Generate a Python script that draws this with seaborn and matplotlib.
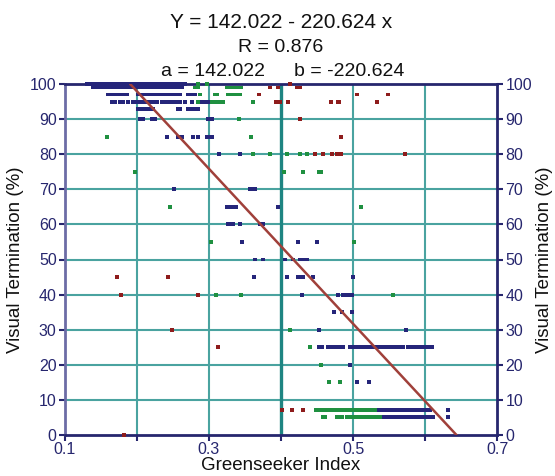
import numpy as np
import pandas as pd
import matplotlib
matplotlib.use("Agg")
import matplotlib.pyplot as plt
import seaborn as sns

# ---------------- data ----------------
intercept_a = 142.022
slope_b = -220.624
r_value = 0.876

x_ticks = [0.1, 0.3, 0.5, 0.7]
x_minor = [0.2, 0.4, 0.6]
y_ticks = list(range(0, 101, 10))

navy_rows = {
    100: [0.131, 0.135, 0.139, 0.143, 0.147, 0.151, 0.155, 0.159, 0.163, 0.167, 0.171, 0.175,
          0.179, 0.183, 0.187, 0.191, 0.195, 0.199, 0.203, 0.207, 0.211, 0.215, 0.219, 0.223,
          0.227, 0.231, 0.235, 0.239, 0.243, 0.247, 0.251, 0.255, 0.259, 0.263, 0.267],
    99: [0.139, 0.143, 0.147, 0.151, 0.155, 0.159, 0.163, 0.167, 0.171, 0.175, 0.179, 0.183,
         0.187, 0.191, 0.195, 0.199, 0.203, 0.207, 0.211, 0.215, 0.219, 0.223, 0.227, 0.231,
         0.235, 0.239, 0.243, 0.247, 0.251, 0.255, 0.259, 0.263],
    97: [0.160, 0.164, 0.168, 0.172, 0.176, 0.181, 0.186, 0.201, 0.205, 0.209, 0.213, 0.217,
         0.221, 0.225, 0.229, 0.233, 0.237, 0.241, 0.245, 0.250, 0.253, 0.257, 0.260, 0.271,
         0.276, 0.281],
    95: [0.165, 0.170, 0.177, 0.181, 0.188, 0.194, 0.200, 0.204, 0.208, 0.212, 0.216, 0.220,
         0.224, 0.228, 0.235, 0.239, 0.243, 0.246, 0.250, 0.256, 0.260, 0.267, 0.276, 0.290,
         0.294, 0.299],
    93: [0.201, 0.205, 0.209, 0.211, 0.215, 0.219, 0.222, 0.257, 0.260, 0.271, 0.275, 0.279,
         0.283, 0.285],
    90: [0.204, 0.208, 0.221, 0.225, 0.299, 0.304],
    85: [0.242, 0.257, 0.260, 0.262, 0.278, 0.285, 0.297, 0.301, 0.304],
    80: [0.314, 0.343],
    70: [0.252, 0.357, 0.361, 0.364],
    65: [0.325, 0.329, 0.332, 0.337, 0.396],
    60: [0.326, 0.330, 0.333, 0.343, 0.371, 0.375],
    55: [0.346, 0.424, 0.450],
    50: [0.364, 0.375, 0.406, 0.417, 0.426, 0.431, 0.436],
    45: [0.363, 0.408, 0.424, 0.427, 0.430, 0.444, 0.500],
    40: [0.429, 0.479, 0.486, 0.490, 0.494, 0.499],
    35: [0.474, 0.485, 0.499],
    30: [0.453, 0.574],
    25: [0.453, 0.457, 0.465, 0.470, 0.475, 0.478, 0.482, 0.486, 0.496, 0.501, 0.506, 0.507,
         0.511, 0.515, 0.519, 0.521, 0.526, 0.531, 0.533, 0.537, 0.542, 0.544, 0.549, 0.553,
         0.556, 0.558, 0.563, 0.568, 0.570, 0.576, 0.582, 0.586, 0.590, 0.594, 0.597, 0.600,
         0.605, 0.610],
    20: [0.496],
    15: [0.506, 0.522],
    7: [0.531, 0.535, 0.539, 0.543, 0.547, 0.551, 0.555, 0.559, 0.563, 0.567, 0.571, 0.575,
        0.579, 0.583, 0.589, 0.593, 0.597, 0.600, 0.603, 0.607, 0.632],
    5: [0.540, 0.544, 0.548, 0.552, 0.556, 0.560, 0.564, 0.568, 0.572, 0.576, 0.580, 0.584,
        0.588, 0.592, 0.596, 0.600, 0.603, 0.608, 0.611, 0.632],
}

green_rows = {
    100: [0.285, 0.297],
    99: [0.281, 0.285, 0.325, 0.329, 0.332, 0.336, 0.340, 0.344],
    97: [0.288, 0.308, 0.311, 0.326, 0.329, 0.332, 0.336, 0.340, 0.343],
    95: [0.285, 0.304, 0.308, 0.312, 0.316, 0.320, 0.361],
    90: [0.342],
    85: [0.158, 0.358],
    80: [0.361, 0.385, 0.408, 0.426, 0.436],
    75: [0.197, 0.404, 0.431, 0.453, 0.456],
    65: [0.246, 0.511],
    55: [0.303, 0.501],
    40: [0.310, 0.344, 0.556],
    30: [0.413],
    25: [0.440],
    20: [0.456],
    15: [0.467, 0.482],
    7: [0.449, 0.453, 0.457, 0.461, 0.465, 0.469, 0.473, 0.477, 0.481, 0.485, 0.489, 0.493,
        0.497, 0.501, 0.505, 0.509, 0.513, 0.517, 0.521, 0.526, 0.531],
    5: [0.458, 0.461, 0.478, 0.482, 0.485, 0.492, 0.496, 0.499, 0.503, 0.507, 0.512, 0.517,
        0.519, 0.524, 0.528, 0.532, 0.538],
}

red_rows = {
    100: [0.413],
    99: [0.385, 0.396, 0.422, 0.426],
    97: [0.369, 0.506, 0.549],
    95: [0.393, 0.399, 0.410, 0.469, 0.479, 0.481, 0.533],
    90: [0.427],
    85: [0.483],
    80: [0.447, 0.458, 0.471, 0.478, 0.483, 0.572],
    45: [0.172, 0.243],
    40: [0.178, 0.285],
    30: [0.249],
    25: [0.312],
    7: [0.401, 0.415, 0.431],
    0: [0.182],
}

series_colors = {"navy": "#25257a", "green": "#1f9040", "red": "#8e1c1c"}

# ---------------- build table ----------------
records = []
for name, rows in (("navy", navy_rows), ("green", green_rows), ("red", red_rows)):
    for yv, xs in rows.items():
        for xv in xs:
            records.append({"gi": xv, "vt": yv, "grp": name})
df = pd.DataFrame(records)

# ---------------- figure ----------------
sns.set_theme(style="white")
plt.rcParams["font.family"] = ["Liberation Sans", "DejaVu Sans"]

fig = plt.figure(figsize=(5.55, 4.76), dpi=100)
ax = fig.add_axes([65 / 555, 1 - 435 / 476, (497 - 65) / 555, (435 - 84) / 476])

navy = "#26266e"
grid_c = "#4aa3a0"

ax.set_xlim(0.1, 0.7)
ax.set_ylim(0, 100)

# grid
for yv in y_ticks[1:-1]:
    ax.axhline(yv, color=grid_c, lw=1.5, zorder=1)
for xv in [0.2, 0.3, 0.5, 0.6]:
    ax.axvline(xv, color=grid_c, lw=1.5, zorder=1)
ax.axvline(0.4, color="#1e8582", lw=2.4, zorder=1)

sns.scatterplot(data=df, x="gi", y="vt", hue="grp", palette=series_colors,
                marker="s", s=8, linewidth=0, legend=False, ax=ax,
                zorder=3, clip_on=False)

line_x = np.array([(100 - intercept_a) / slope_b, -intercept_a / slope_b])
sns.lineplot(x=line_x, y=intercept_a + slope_b * line_x, color="#a0403a",
             lw=1.8, ax=ax, zorder=4)

ax.set_xticks(x_ticks)
ax.set_xticks(x_minor, minor=True)
ax.set_xticklabels([f"{v:.1f}" for v in x_ticks])
ax.set_yticks(y_ticks)
ax.set_yticklabels([str(v) for v in y_ticks])

for side in ["left", "right", "top", "bottom"]:
    ax.spines[side].set_visible(True)
    ax.spines[side].set_color(navy)
    ax.spines[side].set_linewidth(2.0)
ax.spines["left"].set_color("#6c6ca6")

ax.tick_params(axis="both", which="both", direction="out", length=4, width=1.5,
               color=navy, labelcolor=navy, labelsize=11.5, pad=2)
ax.tick_params(axis="x", which="both", bottom=True, pad=1)
ax.tick_params(axis="y", left=True)

ax.set_xlabel("Greenseeker Index", fontsize=13.5, color="#111111", labelpad=0)
ax.set_ylabel("Visual Termination (%)", fontsize=13.5, color="#111111", labelpad=4)

ax2 = ax.twinx()
ax2.set_ylim(0, 100)
ax2.set_yticks(y_ticks)
ax2.set_yticklabels([str(v) for v in y_ticks])
ax2.tick_params(axis="y", direction="out", length=4, width=1.5, color=navy,
                labelcolor=navy, labelsize=11.5, pad=2, right=True)
for side in ["left", "right", "top", "bottom"]:
    ax2.spines[side].set_visible(False)
ax2.set_ylabel("Visual Termination (%)", fontsize=13.5, color="#111111", labelpad=3)
ax2.grid(False)

cx = (65 + 497) / 2 / 555
fig.text(cx, 1 - 28 / 476, f"Y = {intercept_a:.3f} - {abs(slope_b):.3f} x",
         ha="center", va="baseline", fontsize=15, color="#111111")
fig.text(cx, 1 - 52 / 476, f"R = {r_value:.3f}", ha="center", va="baseline",
         fontsize=14, color="#111111")
fig.text(213 / 555, 1 - 76 / 476, f"a = {intercept_a:.3f}", ha="center",
         va="baseline", fontsize=14, color="#111111")
fig.text(349 / 555, 1 - 76 / 476, f"b = {slope_b:.3f}", ha="center",
         va="baseline", fontsize=14, color="#111111")

fig.savefig("out.png", dpi=100)
